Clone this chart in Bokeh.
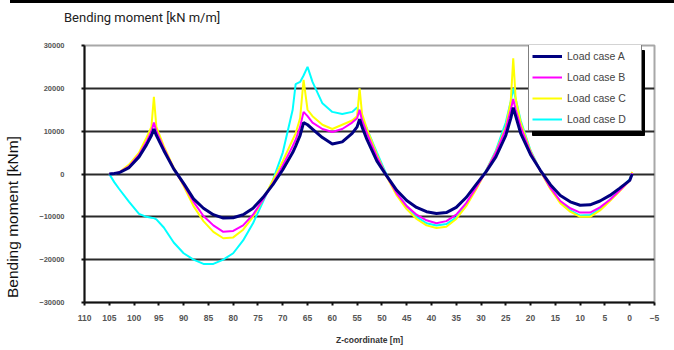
from bokeh.plotting import figure
from bokeh.models import (Range1d, FixedTicker, Legend, LegendItem,
                          BoxAnnotation, Div, BasicTickFormatter)
from bokeh.layouts import column
from bokeh.embed import file_html
from bokeh.resources import INLINE

# ---- data ----
z = [105, 104, 103, 101, 99, 97.5, 96.5, 96, 95.5, 94,
     92, 90, 88, 86, 84, 82, 80, 78, 76, 74,
     72, 70, 68, 67.4, 66.5, 65.8, 65, 64, 62, 60,
     58, 56, 55, 54.5, 54, 53, 51, 49, 47, 45,
     43, 41, 39, 37, 35, 33, 31, 29, 27, 25,
     24, 23.5, 23, 22, 20, 18, 16, 14, 12, 10,
     8, 6, 4, 2, 0, -0.5]

case_a = [0, 100, 300, 1500, 4000, 6800, 9000, 10500, 9000, 5500,
          1200, -2200, -5800, -8000, -9500, -10300, -10200, -9500, -8000, -5500,
          -2500, 1000, 5000, 6500, 9000, 12000, 11500, 10500, 8500, 7000,
          7500, 9500, 11000, 12800, 11000, 8000, 3000, -500, -3800, -6200,
          -7800, -8800, -9200, -9000, -7800, -5500, -2500, 500, 4000, 9000,
          13000, 15500, 13500, 9500, 4500, 800, -2500, -5000, -6500, -7300,
          -7200, -6300, -5000, -3300, -1500, 0]

case_b = [0, 100, 400, 1800, 4500, 7500, 10000, 12000, 10000, 6000,
          1300, -2500, -6500, -9800, -12000, -13500, -13300, -12000, -9500, -6000,
          -2200, 2000, 6500, 8000, 11000, 14500, 13500, 12000, 10500, 9800,
          10500, 12000, 13000, 15000, 12500, 9500, 4000, -600, -4500, -7500,
          -9500, -10800, -11500, -11000, -9500, -6800, -3200, 600, 5000, 10500,
          15000, 17500, 15000, 11000, 5000, 700, -3200, -6300, -8000, -9000,
          -9000, -7800, -6000, -3800, -1500, 200]

case_c = [0, 0, 400, 2200, 5000, 8500, 11000, 18000, 11000, 6500,
          1500, -2800, -7500, -11000, -13500, -15000, -14800, -13000, -10000, -6000,
          -1500, 3000, 8000, 9500, 13000, 22000, 15000, 13500, 11500, 10500,
          11500, 12500, 13500, 20000, 14000, 10500, 4500, -700, -5000, -8200,
          -10500, -12000, -12600, -12300, -10500, -7500, -3600, 700, 5200, 11000,
          17000, 27000, 17500, 12000, 5300, 600, -3500, -6800, -8800, -10000,
          -10000, -8500, -6300, -4000, -1500, 500]

case_d = [0, -1900, -3500, -6500, -9300, -10000, -10200, -10300, -10600, -12500,
          -16000, -18500, -20000, -21000, -21000, -20000, -18500, -15500, -11500, -6500,
          -1500, 5000, 15000, 21000, 21500, 23000, 25000, 21500, 16500, 14500,
          14000, 14500, 15500, 14500, 13000, 10500, 5000, -300, -4500, -7500,
          -10000, -11500, -12000, -11700, -10200, -7200, -3300, 800, 5500, 12000,
          17000, 20000, 17500, 12500, 5500, 700, -3300, -6500, -8500, -9700,
          -9600, -8200, -6000, -3700, -1200, 300]

series_names = ["Load case A", "Load case B", "Load case C", "Load case D"]
x_ticks = [110, 105, 100, 95, 90, 85, 80, 75, 70, 65, 60, 55, 50, 45, 40,
           35, 30, 25, 20, 15, 10, 5, 0, -5]
y_ticks = [-30000, -20000, -10000, 0, 10000, 20000, 30000]
grid_ticks = [-20000, -10000, 0, 10000, 20000]
chart_title = "Bending moment [kN m/m]"
y_title = "Bending moment [kNm]"
x_title = "Z-coordinate [m]"

# ---- header (top rule + title) ----
header = Div(
    text=('<div style="position:absolute; left:54px; top:6px; white-space:nowrap; '
          'font-family:Roboto; font-size:13px; color:#222222;">'
          + chart_title + '</div>'),
    width=664, height=30, margin=(0, 0, 0, 10),
    styles={"border-top": "3px solid black", "box-sizing": "border-box",
            "position": "relative"})

# ---- figure ----
p = figure(width=674, height=320, output_backend="svg", toolbar_location=None,
           x_range=Range1d(110, -5), y_range=Range1d(-30000, 30000),
           min_border_left=84, min_border_right=20,
           min_border_top=15, min_border_bottom=48)
p.background_fill_color = "white"
p.outline_line_color = "#a8a8a8"
p.outline_line_width = 2

p.xgrid.visible = False
p.ygrid.ticker = FixedTicker(ticks=grid_ticks)
p.ygrid.grid_line_color = "#2a2a2a"
p.ygrid.grid_line_width = 2

tick_font = "Liberation Sans"
for ax in (p.xaxis[0], p.yaxis[0]):
    ax.axis_line_color = "#111111"
    ax.axis_line_width = 2
    ax.major_tick_line_color = "#111111"
    ax.major_tick_line_width = 2
    ax.major_tick_out = 3
    ax.major_tick_in = 0
    ax.minor_tick_line_color = None
    ax.major_label_text_font = tick_font
    ax.major_label_text_font_style = "bold"
    ax.major_label_text_color = "#555555"

p.xaxis[0].ticker = FixedTicker(ticks=x_ticks)
p.xaxis[0].major_label_text_font_size = "8.5px"
p.xaxis[0].major_label_standoff = 9
p.xaxis[0].axis_label = x_title
p.xaxis[0].axis_label_text_font = tick_font
p.xaxis[0].axis_label_text_font_size = "8.5px"
p.xaxis[0].axis_label_text_font_style = "bold"
p.xaxis[0].axis_label_text_color = "#333333"
p.xaxis[0].axis_label_standoff = 11

p.yaxis[0].ticker = FixedTicker(ticks=y_ticks)
p.yaxis[0].formatter = BasicTickFormatter(use_scientific=False)
p.yaxis[0].major_label_text_font_size = "7.5px"
p.yaxis[0].major_label_standoff = 17
# trailing no-break spaces push the rotated label down, as in the reference
p.yaxis[0].axis_label = y_title + "\u00a0" * 20
p.yaxis[0].axis_label_text_font = "Liberation Sans"
p.yaxis[0].axis_label_text_font_size = "15.5px"
p.yaxis[0].axis_label_text_font_style = "normal"
p.yaxis[0].axis_label_text_color = "#111111"
p.yaxis[0].axis_label_standoff = 15

r_d = p.line(z, case_d, line_color="#00ffff", line_width=2)
r_c = p.line(z, case_c, line_color="#ffff00", line_width=2)
r_b = p.line(z, case_b, line_color="#ff00ff", line_width=2)
r_a = p.line(z, case_a, line_color="#000080", line_width=3)

# legend shadow (frame-relative screen units, drawn before the legend)
shadow = BoxAnnotation(left=448, right=560, bottom=167, top=252,
                       left_units="screen", right_units="screen",
                       bottom_units="screen", top_units="screen",
                       fill_color="black", fill_alpha=1.0,
                       line_color="black", line_alpha=1.0,
                       level="annotation")
p.add_layout(shadow)

legend = Legend(items=[LegendItem(label=series_names[0], renderers=[r_a]),
                       LegendItem(label=series_names[1], renderers=[r_b]),
                       LegendItem(label=series_names[2], renderers=[r_c]),
                       LegendItem(label=series_names[3], renderers=[r_d])],
                location=(444, 171), margin=0, padding=3, spacing=5,
                glyph_width=30, glyph_height=16, label_height=16,
                label_width=71, label_standoff=5,
                label_text_font="Liberation Sans", label_text_font_size="10.5px",
                label_text_color="#444444",
                border_line_color="black", border_line_width=1,
                background_fill_color="white", background_fill_alpha=1.0)
p.add_layout(legend)

layout = column(header, p)
open("out.html", "w").write(file_html(layout, INLINE))
